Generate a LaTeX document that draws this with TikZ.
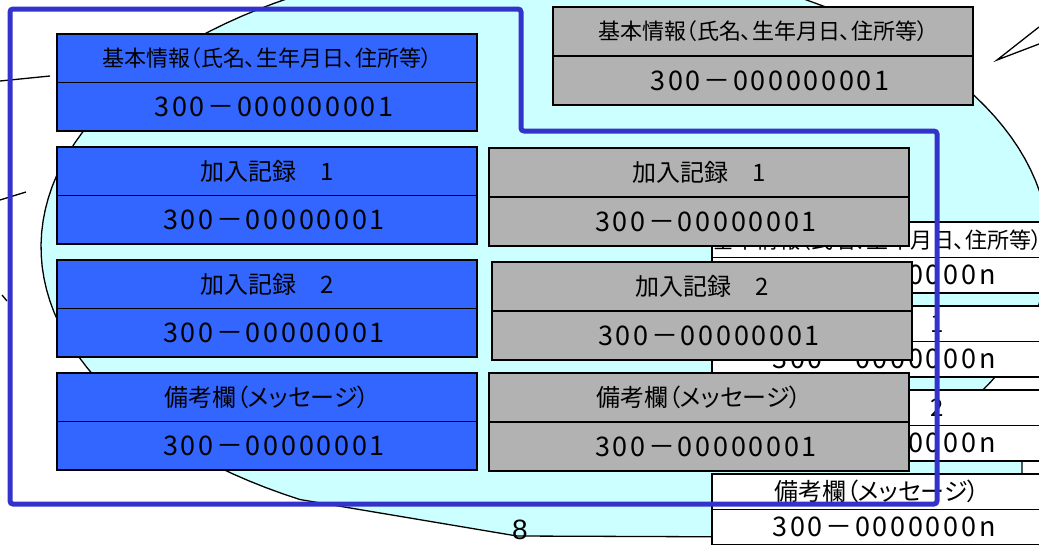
\documentclass[tikz,border=0pt]{standalone}
\usepackage{fontspec}
\usepackage{tikz}
\usepackage{xcolor}
\usetikzlibrary{positioning}
\newfontfamily\jpfont[RawFeature=+palt]{Noto Sans CJK JP}
\newfontfamily\numfont[LetterSpace=10]{Noto Sans CJK JP}
\newfontfamily\pagefont{Liberation Sans}
\definecolor{calloutcyan}{HTML}{CCFFFF}
\definecolor{boxblue}{HTML}{3366FF}
\definecolor{boxgray}{HTML}{B2B2B2}
\definecolor{frameblue}{HTML}{3333CC}
\tikzset{
    cell/.style = {draw=black, line width=1.5pt, rectangle, inner sep=0pt, outer sep=0pt},
    blue-cell/.style = {cell, fill=boxblue, minimum width=420pt, minimum height=48.5pt},
    gray-cell/.style = {cell, fill=boxgray, minimum width=420pt, minimum height=49pt},
    white-cell/.style = {cell, fill=white, minimum width=330pt, minimum height=35.5pt},
    head-small/.style = {font=\jpfont\fontsize{22}{24}\selectfont},
    head-large/.style = {font=\jpfont\fontsize{24}{28}\selectfont},
    rec-number/.style = {font=\numfont\fontsize{27}{30}\selectfont, execute at begin node=\hspace*{14pt}},
}
\begin{document}
\begin{tikzpicture}[x=1pt, y=-1pt]
\path[use as bounding box, clip] (0,0) rectangle (1039,544);

\filldraw[fill=calloutcyan, draw=black, line width=1.3pt]
    plot[domain=119.1:390.1, samples=120] ({545+504*cos(\x)}, {247+289*sin(\x)})
    -- (1022,440) -- (1022,538) -- (517,536) -- cycle;

\coordinate (wedge-tip) at (997,60);
\draw[line width=1.3pt] (1039,27) -- (wedge-tip) -- (1039,44);
\draw[line width=1.3pt] (0,81) -- (50,76);
\draw[line width=1.3pt] (0,200) -- (26,192);
\draw[line width=1.3pt] (2,295) -- (7,301);

\node[white-cell, head-small, anchor=north west] (white-head-1) at (712,222) {基本情報（氏名、生年月日、住所等）};
\node[white-cell, rec-number, below=0pt of white-head-1] (white-num-1) {300－0000000n};
\node[white-cell, head-large, anchor=north west] (white-head-2) at (712,306) {加入記録　1};
\node[white-cell, rec-number, below=0pt of white-head-2] (white-num-2) {300－0000000n};
\node[white-cell, head-large, anchor=north west] (white-head-3) at (712,390) {加入記録　2};
\node[white-cell, rec-number, below=0pt of white-head-3] (white-num-3) {300－0000000n};
\node[white-cell, head-large, anchor=north west] (white-head-4) at (712,474) {備考欄（メッセージ）};
\node[white-cell, rec-number, below=0pt of white-head-4] (white-num-4) {300－0000000n};

\node[gray-cell, head-small, anchor=north west] (gray-head-1) at (553,7) {基本情報（氏名、生年月日、住所等）};
\node[gray-cell, rec-number, below=0pt of gray-head-1] (gray-num-1) {300－000000001};
\node[gray-cell, head-large, anchor=north west] (gray-head-2) at (489,148) {加入記録　1};
\node[gray-cell, rec-number, below=0pt of gray-head-2] (gray-num-2) {300－00000001};
\node[gray-cell, head-large, anchor=north west] (gray-head-3) at (492,262) {加入記録　2};
\node[gray-cell, rec-number, below=0pt of gray-head-3] (gray-num-3) {300－00000001};
\node[gray-cell, head-large, anchor=north west] (gray-head-4) at (489,373) {備考欄（メッセージ）};
\node[gray-cell, rec-number, below=0pt of gray-head-4] (gray-num-4) {300－00000001};

\node[blue-cell, head-small, anchor=north west] (blue-head-1) at (57,34) {基本情報（氏名、生年月日、住所等）};
\node[blue-cell, rec-number, below=0pt of blue-head-1] (blue-num-1) {300－000000001};
\node[blue-cell, head-large, anchor=north west] (blue-head-2) at (57,147) {加入記録　1};
\node[blue-cell, rec-number, below=0pt of blue-head-2] (blue-num-2) {300－00000001};
\node[blue-cell, head-large, anchor=north west] (blue-head-3) at (57,260) {加入記録　2};
\node[blue-cell, rec-number, below=0pt of blue-head-3] (blue-num-3) {300－00000001};
\node[blue-cell, head-large, anchor=north west] (blue-head-4) at (57,373) {備考欄（メッセージ）};
\node[blue-cell, rec-number, below=0pt of blue-head-4] (blue-num-4) {300－00000001};

\draw[frameblue, line width=5pt, rounded corners=3pt] (10,9) -- (521,9) -- (521,131) -- (937,131) -- (937,504) -- (10,504) -- cycle;

\node[font=\pagefont\fontsize{28}{30}\selectfont] (page-num) at (520,530) {8};
\end{tikzpicture}
\end{document}
